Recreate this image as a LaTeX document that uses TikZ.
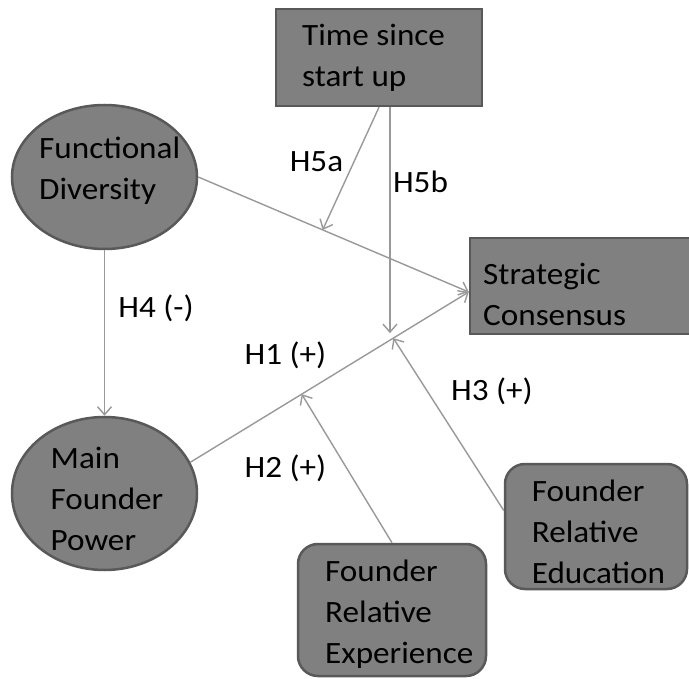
\documentclass[tikz,border=0pt]{standalone}
\usepackage{fontspec}
\setmainfont{Carlito}[FakeStretch=1.07]
\usetikzlibrary{arrows.meta,calc,shapes.geometric}
\begin{document}
\begin{tikzpicture}[x=1pt,y=-1pt,
  shp/.style={draw=black!65, line width=2.5pt, fill=black!50, inner sep=0pt},
  txt/.style={font=\fontsize{31}{41}\selectfont, align=left, inner sep=0pt, anchor=west, text=black},
  lab/.style={font=\fontsize{31}{41}\selectfont, inner sep=0pt, anchor=base, text=black},
  conn/.style={draw=black!40, line width=1.4pt, -{Straight Barb[length=8pt,width=14pt]}}
]
\useasboundingbox (0,0) rectangle (689,679);
\fill[white] (0,0) rectangle (689,679);

% shapes
\node[shp, rectangle, minimum width=206pt, minimum height=97pt] (time) at (379,57.5) {};
\node[shp, ellipse, minimum width=185pt, minimum height=144pt] (fd) at (104.5,177) {};
\node[shp, ellipse, minimum width=185pt, minimum height=153pt] (mfp) at (104.5,493.5) {};
\node[shp, rectangle, minimum width=221pt, minimum height=96pt] (sc) at (580.5,286) {};
\node[shp, rectangle, rounded corners=20pt, minimum width=182pt, minimum height=125pt] (fred) at (596,526.5) {};
\node[shp, rectangle, rounded corners=20pt, minimum width=188pt, minimum height=132pt] (fre) at (392,610) {};

% texts
\node[txt] (timet) at (302,58) {\strut Time since\\\strut start up};
\node[txt] (fdt) at (39,171) {\strut Functional\\\strut Diversity};
\node[txt] (mfpt) at (50.5,501) {\strut Main\\\strut Founder\\\strut Power};
\node[txt] (sct) at (483,297) {\strut Strategic\\\strut Consensus};
\node[txt] (fredt) at (531.6,534.5) {\strut Founder\\\strut Relative\\\strut Education};
\node[txt] (fret) at (325,614.5) {\strut Founder\\\strut Relative\\\strut Experience};

% connection points
\coordinate (scin) at ($(sc.west)+(0,6)$);
\coordinate (h5a) at ($(fd.east)!0.46!(scin)$);
\coordinate (h2p) at ($(mfp.20)!0.40!(scin)$);
\coordinate (h3p) at ($(mfp.20)!0.729!(scin)$);
\coordinate (h5b) at ($(mfp.20)!0.717!(scin)+(0,-7)$);

% connectors
\draw[conn] (fd.east) -- (scin);
\draw[conn] (mfp.20) -- (scin);
\draw[conn] (fd.south) -- (mfp.north);
\draw[conn] (time.south) -- (h5a);
\draw[conn] (h5b |- time.south) -- (h5b);
\draw[conn] (fre.north) -- (h2p);
\draw[conn] ($(fred.west)+(0,-16)$) -- (h3p);

% labels
\node[lab] (l5a) at (316.5,172) {H5a};
\node[lab] (l5b) at (420.5,193) {H5b};
\node[lab] (l4) at (156,318) {H4 (-)};
\node[lab] (l1) at (285.5,365) {H1 (+)};
\node[lab] (l2) at (285.5,478) {H2 (+)};
\node[lab] (l3) at (492,400) {H3 (+)};
\end{tikzpicture}
\end{document}
